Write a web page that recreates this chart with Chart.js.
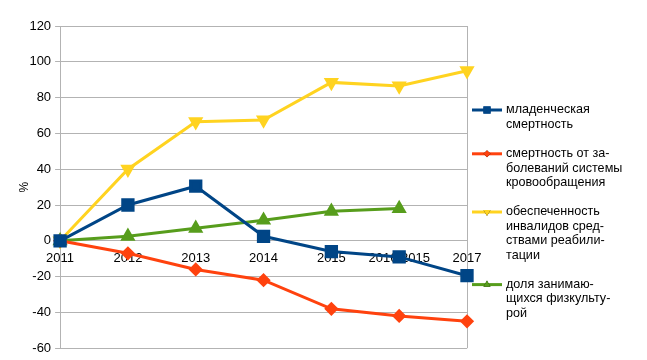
<!DOCTYPE html>
<html>
<head>
<meta charset="utf-8">
<script src="https://cdn.jsdelivr.net/npm/chart.js@4.4.1/dist/chart.umd.min.js"></script>
<style>
  html, body { margin: 0; padding: 0; background: #fff; }
  #wrap { width: 647px; height: 360px; }
</style>
</head>
<body>
<div id="wrap"><canvas id="chart"></canvas></div>
<script>
// года
const years = ['2011', '2012', '2013', '2014', '2015', '2016/2015', '2017'];

// значения, % к 2011 году
const infantMortality = [0, 20, 30.5, 2.5, -6, -9, -19.5];
const circulatoryMortality = [0, -7, -16, -22, -38, -42, -45];
const rehabSupply = [0, 40, 66.5, 67.5, 88.5, 86.5, 95];
const sportsShare = [0, 2.5, 7, 11.5, 16.5, 18, null];

// подписи легенды (по строкам, как в оригинале)
const legendLines = [
    ['младенческая', 'смертность'],
    ['смертность от за-', 'болеваний системы', 'кровообращения'],
    ['обеспеченность', 'инвалидов сред-', 'ствами реабили-', 'тации'],
    ['доля занимаю-', 'щихся физкульту-', 'рой']
];

const FONT = '"Liberation Sans", Arial, sans-serif';

// легенда справа рисуется вручную, чтобы переносить строки
const sideLegend = {
    id: 'sideLegend',
    afterDraw(chart) {
        const ctx = chart.ctx;
        const x0 = 472, x1 = 502, tx = 506;
        let y = 110;
        ctx.save();
        ctx.font = '12.6px ' + FONT;
        ctx.textBaseline = 'middle';
        chart.data.datasets.forEach((ds, i) => {
            ctx.strokeStyle = ds.borderColor;
            ctx.lineWidth = 3;
            ctx.beginPath();
            ctx.moveTo(x0, y);
            ctx.lineTo(x1, y);
            ctx.stroke();
            Chart.helpers.drawPoint(ctx, {
                pointStyle: ds.pointStyle,
                rotation: ds.pointRotation || 0,
                radius: ds.pointRadius * 0.7,
                borderWidth: 0
            }, (x0 + x1) / 2, y);
            ctx.fillStyle = ds.borderColor;
            ctx.fill();
            ctx.fillStyle = '#000';
            legendLines[i].forEach((line, j) => {
                ctx.fillText(line, tx, y + j * 14.4);
            });
            y += legendLines[i].length * 14.4 + 15;
        });
        ctx.restore();
    }
};

const ctx = document.getElementById('chart').getContext('2d');
new Chart(ctx, {
    type: 'line',
    data: {
        labels: years,
        datasets: [
            {
                label: legendLines[0].join(' '),
                data: infantMortality,
                borderColor: '#004586',
                backgroundColor: '#004586',
                pointStyle: 'rect',
                pointRadius: 7.3,
                borderWidth: 3
            },
            {
                label: legendLines[1].join(' '),
                data: circulatoryMortality,
                borderColor: '#ff420e',
                backgroundColor: '#ff420e',
                pointStyle: 'rectRot',
                pointRadius: 5,
                borderWidth: 3
            },
            {
                label: legendLines[2].join(' '),
                data: rehabSupply,
                borderColor: '#ffd320',
                backgroundColor: '#ffd320',
                pointStyle: 'triangle',
                pointRotation: 180,
                pointRadius: 5.8,
                borderWidth: 3
            },
            {
                label: legendLines[3].join(' '),
                data: sportsShare,
                borderColor: '#579d1c',
                backgroundColor: '#579d1c',
                pointStyle: 'triangle',
                pointRadius: 5.8,
                borderWidth: 3
            }
        ]
    },
    options: {
        responsive: true,
        maintainAspectRatio: false,
        animation: false,
        clip: false,
        elements: {
            line: { tension: 0 },
            point: { borderWidth: 0, hoverRadius: 6 }
        },
        layout: {
            padding: { left: 11, right: 180, top: 26, bottom: 2 }
        },
        plugins: {
            legend: { display: false },
            tooltip: { enabled: false }
        },
        scales: {
            x: {
                position: { y: 0 },
                offset: false,
                grid: {
                    drawTicks: false,
                    color: (c) => (c.index === 0 || c.index === years.length - 1) ? '#b3b3b3' : 'rgba(0,0,0,0)'
                },
                border: { display: true, color: '#b3b3b3' },
                ticks: {
                    color: '#000',
                    padding: 10,
                    maxRotation: 0,
                    autoSkip: false,
                    font: { family: FONT, size: 13 }
                }
            },
            y: {
                min: -60,
                max: 120,
                ticks: {
                    stepSize: 20,
                    color: '#000',
                    padding: 4,
                    font: { family: FONT, size: 13 }
                },
                grid: { color: '#b3b3b3', tickLength: 5 },
                border: { color: '#b3b3b3' },
                title: {
                    display: true,
                    text: '%',
                    color: '#000',
                    padding: { top: 6, bottom: -6 },
                    font: { family: FONT, size: 12 }
                }
            }
        }
    },
    plugins: [sideLegend]
});
</script>
</body>
</html>
